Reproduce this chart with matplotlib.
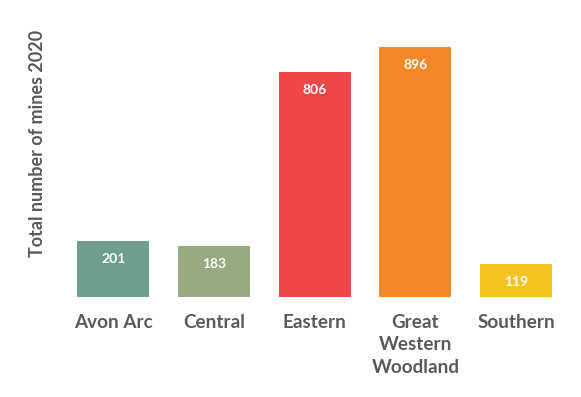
import matplotlib.pyplot as plt

regions = ["Avon Arc", "Central", "Eastern", "Great\nWestern\nWoodland", "Southern"]
mines = [201, 183, 806, 896, 119]
colors = ["#6E9E8E", "#97AA7F", "#EE4649", "#F48828", "#F6C41F"]

plt.rcParams["font.family"] = ["Lato", "DejaVu Sans"]
grey = "#595959"

fig = plt.figure(figsize=(5.81, 3.97), dpi=100)
ax = fig.add_axes([0.108, 0.252, 0.867, 0.6297])
x = list(range(len(regions)))
ax.bar(x, mines, width=0.715, color=colors)
ax.set_xlim(-0.5, len(regions) - 0.5)
ax.set_ylim(0, 896)

# value labels inside the top of each bar
for xi, v in zip(x, mines):
    ax.annotate(str(v), (xi, v), xytext=(0, -18), textcoords="offset pixels",
                ha="center", va="center", color="white", fontsize=10, fontweight="bold")

ax.set_xticks(x)
ax.set_xticklabels(regions, fontsize=13.6, fontweight="bold", color=grey, linespacing=1.4, va="top")
ax.tick_params(axis="x", length=0, pad=12)
ax.set_yticks([])
for s in ax.spines.values():
    s.set_visible(False)

fig.text(0.065, 1 - 143 / 397, "Total number of mines 2020", rotation=90, ha="center", va="center",
         fontsize=13, fontweight="bold", color=grey)

fig.savefig("out.png", dpi=100)
